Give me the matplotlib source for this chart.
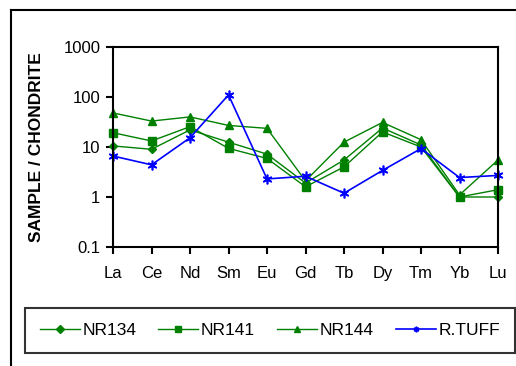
import matplotlib
matplotlib.use('Agg')
import matplotlib.pyplot as plt
from matplotlib.lines import Line2D

elements = ['La', 'Ce', 'Nd', 'Sm', 'Eu', 'Gd', 'Tb', 'Dy', 'Tm', 'Yb', 'Lu']
nr134 = [10.5, 9.0, 22, 12.5, 7.2, 1.9, 5.5, 24, 11, 1.0, 1.0]
nr141 = [19.3, 13.2, 25.5, 9.4, 5.9, 1.6, 4.0, 20, 10, 1.0, 1.4]
nr144 = [48, 33, 40, 27, 23.6, 2.1, 12.5, 31, 14, 1.1, 5.5]
rtuff = [6.6, 4.4, 15.3, 110, 2.3, 2.6, 1.19, 3.4, 9.3, 2.45, 2.7]
ytick_vals = [0.1, 1, 10, 100, 1000]
ytick_labels = ['0.1', '1', '10', '100', '1000']

plt.rcParams['font.family'] = ['Liberation Sans', 'DejaVu Sans']

fig = plt.figure(figsize=(5.16, 3.66), dpi=100)
ax = fig.add_axes([113/516, 1 - 247/366, 385/516, 200/366])

green = '#008000'
blue = '#0000ff'
x = list(range(len(elements)))
l1, = ax.plot(x, nr134, color=green, lw=1, marker='D', ms=4, clip_on=False, label='NR134')
l2, = ax.plot(x, nr141, color=green, lw=1, marker='s', ms=6, clip_on=False, label='NR141')
l3, = ax.plot(x, nr144, color=green, lw=1, marker='^', ms=6, clip_on=False, label='NR144')
l4, = ax.plot(x, rtuff, color=blue, lw=1.2, marker=(6, 2, 0), ms=7, mew=1.2, clip_on=False, label='R.TUFF')

ax.set_yscale('log')
ax.set_ylim(0.1, 1000)
ax.set_xlim(0, len(elements) - 1)
ax.set_yticks(ytick_vals)
ax.set_yticklabels(ytick_labels)
ax.yaxis.set_minor_locator(matplotlib.ticker.NullLocator())
ax.set_xticks(x)
ax.set_xticklabels(elements)
ax.tick_params(axis='both', direction='out', length=5, width=1.5, labelsize=12, pad=4)
ax.tick_params(axis='x', pad=9)
for s in ax.spines.values():
    s.set_linewidth(1.5)

fig.text(37/516, 1 - 147/366, 'SAMPLE / CHONDRITE', rotation=90, fontsize=12.5,
         fontweight='bold', ha='center', va='center')

leg = fig.legend(handles=[l1, l2, l3, l4], loc='center', ncol=4, mode='expand',
                 bbox_to_anchor=(25/516, 1 - 356/366, 490/516, 51/366),
                 fontsize=12.5, frameon=True, fancybox=False, borderpad=0.85,
                 handlelength=2.3, handletextpad=0.15, borderaxespad=0)
leg.get_frame().set_edgecolor('black')
leg.get_frame().set_linewidth(1.5)
for h in leg.legend_handles:
    h.set_markersize(4)

fig.add_artist(Line2D([11/516, 11/516], [0, 1 - 10/366], color='black', lw=1.5,
                      transform=fig.transFigure))
fig.add_artist(Line2D([11/516, 1], [1 - 10/366, 1 - 10/366], color='black', lw=1.5,
                      transform=fig.transFigure))

plt.savefig('out.png', dpi=100)
